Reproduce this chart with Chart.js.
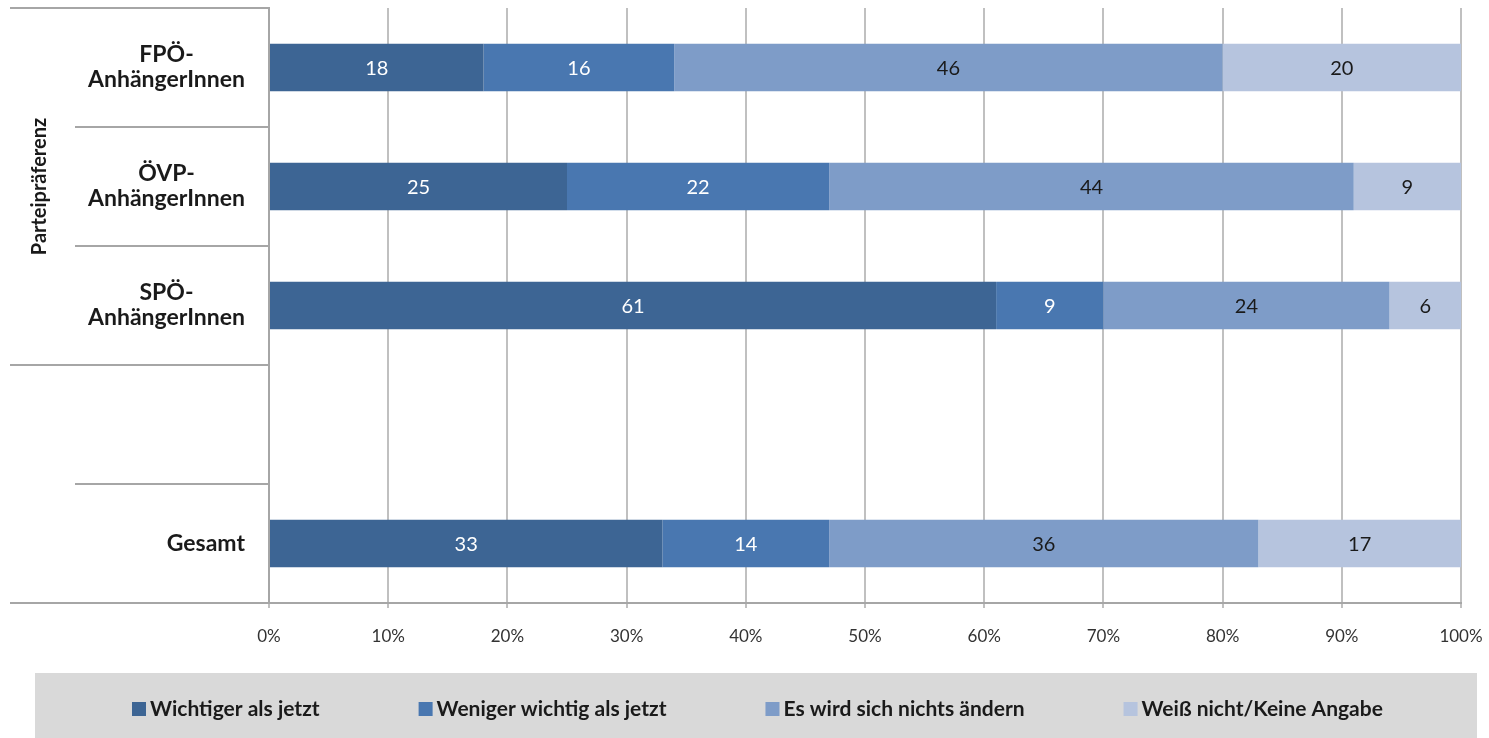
<!DOCTYPE html>
<html>
<head>
<meta charset="utf-8">
<script src="https://cdn.jsdelivr.net/npm/chart.js@4/dist/chart.umd.min.js"></script>
<style>
  html, body { margin: 0; padding: 0; background: #fff; }
  #wrap { width: 1489px; height: 738px; position: relative; }
</style>
</head>
<body>
<div id="wrap"><canvas id="barChartParteien"></canvas></div>
<script>
// categories (top to bottom), 4th row is an empty spacer
const categories = [['FPÖ-', 'AnhängerInnen'], ['ÖVP-', 'AnhängerInnen'], ['SPÖ-', 'AnhängerInnen'], '', 'Gesamt'];
const groupLabel = 'Parteipräferenz';
const seriesNames = ['Wichtiger als jetzt', 'Weniger wichtig als jetzt', 'Es wird sich nichts ändern', 'Weiß nicht/Keine Angabe'];

const wichtiger = [18, 25, 61, null, 33];
const weniger = [16, 22, 9, null, 14];
const keineAenderung = [46, 44, 24, null, 36];
const weissNicht = [20, 9, 6, null, 17];

const xTicks = [0, 10, 20, 30, 40, 50, 60, 70, 80, 90, 100];

const colors = ['#3d6594', '#4977b0', '#7e9cc8', '#b6c4de'];
const labelColors = ['#ffffff', '#ffffff', '#1a1a1a', '#1a1a1a'];
const FONT = 'Lato, "Open Sans", sans-serif';

const data = {
    labels: categories,
    datasets: [wichtiger, weniger, keineAenderung, weissNicht].map((vals, i) => ({
        label: seriesNames[i],
        data: vals,
        backgroundColor: colors[i],
        borderWidth: 0,
        categoryPercentage: 1,
        barPercentage: 0.4
    }))
};

// value labels inside the bars
const barValues = {
    id: 'barValues',
    afterDatasetsDraw(chart) {
        const ctx = chart.ctx;
        ctx.save();
        ctx.font = '20px ' + FONT;
        ctx.textAlign = 'center';
        ctx.textBaseline = 'middle';
        chart.data.datasets.forEach((ds, di) => {
            const meta = chart.getDatasetMeta(di);
            meta.data.forEach((bar, i) => {
                const v = ds.data[i];
                if (v == null) return;
                const p = bar.getCenterPoint();
                ctx.fillStyle = labelColors[di];
                ctx.fillText(String(v), p.x, p.y + 1);
            });
        });
        ctx.restore();
    }
};

// left category panel with group label and separator lines
const leftPanel = {
    id: 'leftPanel',
    afterDraw(chart) {
        const ctx = chart.ctx;
        const y = chart.scales.y;
        const area = chart.chartArea;
        const n = categories.length;
        const band = (area.bottom - area.top) / n;
        ctx.save();
        ctx.strokeStyle = '#a6a6a6';
        ctx.lineWidth = 2;
        for (let i = 0; i <= n; i++) {
            const yy = Math.round(area.top + i * band);
            const full = (i === 0 || i === 3 || i === n);
            ctx.beginPath();
            ctx.moveTo(full ? 10 : 75, yy);
            ctx.lineTo(area.left, yy);
            ctx.stroke();
        }
        ctx.fillStyle = '#1a1a1a';
        ctx.font = 'bold 23px ' + FONT;
        ctx.textBaseline = 'middle';
        ctx.textAlign = 'center';
        categories.forEach((lab, i) => {
            const lines = Array.isArray(lab) ? lab : [lab];
            if (!lines[0]) return;
            const cy = y.getPixelForTick(i);
            const w = Math.max(...lines.map(l => ctx.measureText(l).width));
            const cx = 245 - w / 2;
            const lh = 25;
            lines.forEach((l, j) => {
                ctx.fillText(l, cx, cy + (j - (lines.length - 1) / 2) * lh);
            });
        });
        // rotated group label over the three party rows
        const gy = area.top + 1.5 * band;
        ctx.translate(40, gy);
        ctx.rotate(-Math.PI / 2);
        ctx.font = 'bold 20px ' + FONT;
        ctx.fillText(groupLabel, 0, 0);
        ctx.restore();
    }
};

// grey legend strip at the bottom
const legendStrip = {
    id: 'legendStrip',
    afterDraw(chart) {
        const ctx = chart.ctx;
        ctx.save();
        ctx.fillStyle = '#d9d9d9';
        ctx.fillRect(35, 673, 1442, 65);
        ctx.font = 'bold 21px ' + FONT;
        ctx.textBaseline = 'middle';
        ctx.textAlign = 'left';
        let x = 132;
        const cy = 709;
        chart.data.datasets.forEach((ds, i) => {
            ctx.fillStyle = ds.backgroundColor;
            ctx.fillRect(x, cy - 7, 14, 14);
            ctx.fillStyle = '#1a1a1a';
            ctx.fillText(ds.label, x + 18, cy);
            x += 18 + ctx.measureText(ds.label).width + 99;
        });
        ctx.restore();
    }
};

new Chart(document.getElementById('barChartParteien'), {
    type: 'bar',
    data: data,
    plugins: [barValues, leftPanel, legendStrip],
    options: {
        indexAxis: 'y',
        responsive: true,
        maintainAspectRatio: false,
        animation: false,
        layout: { padding: { top: 8, right: 28, left: 0, bottom: 65 } },
        plugins: {
            legend: { display: false },
            tooltip: { enabled: false }
        },
        scales: {
            x: {
                stacked: true,
                min: 0,
                max: 100,
                afterBuildTicks: (scale) => { scale.ticks = xTicks.map(v => ({ value: v })); },
                afterFit: (scale) => {
                    scale.height = 70;
                    scale.paddingLeft = 0;
                    scale.paddingRight = 0;
                },
                grid: { color: '#c0c0c0', lineWidth: 2, tickLength: 5 },
                border: { color: '#a6a6a6', width: 2 },
                ticks: {
                    padding: 18,
                    color: '#333',
                    font: { family: FONT, size: 17 },
                    callback: (v) => v + '%'
                }
            },
            y: {
                stacked: true,
                grid: { display: false },
                border: { display: true, color: '#a6a6a6', width: 2 },
                ticks: { display: false },
                afterFit: (scale) => { scale.width = 269; }
            }
        }
    }
});
</script>
</body>
</html>
